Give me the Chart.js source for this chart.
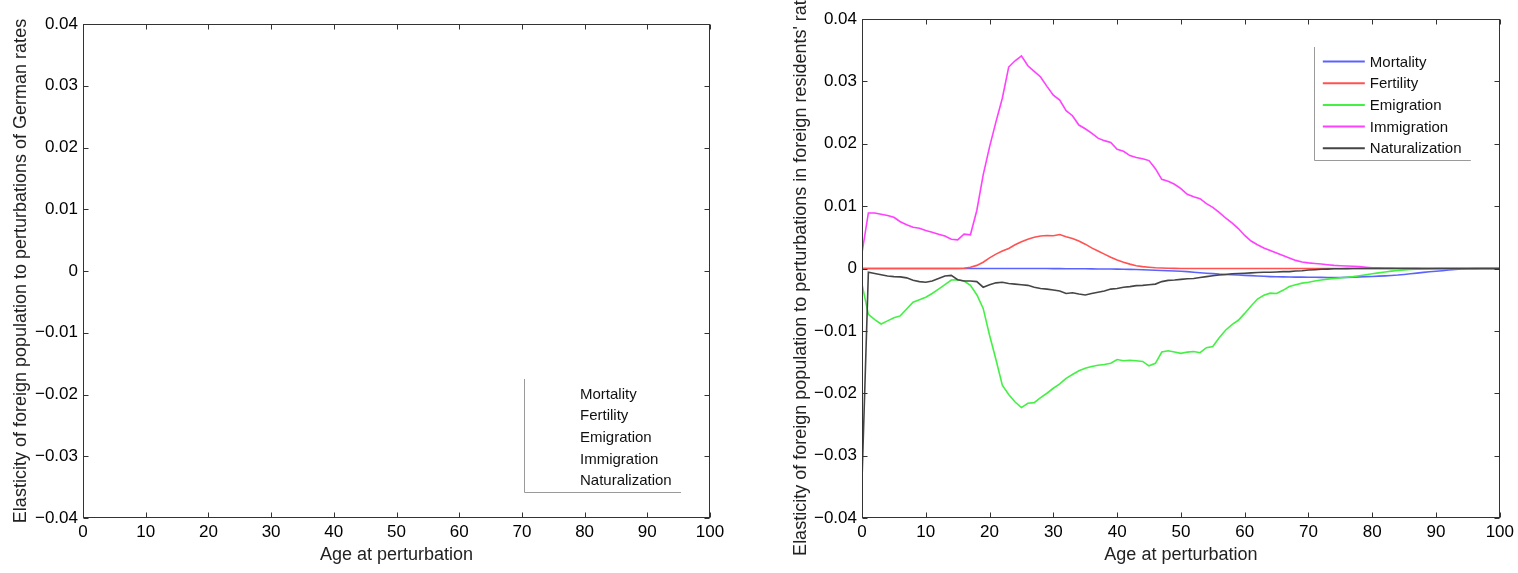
<!DOCTYPE html>
<html>
<head>
<meta charset="utf-8">
<script src="https://cdn.jsdelivr.net/npm/chart.js@4.4.1/dist/chart.umd.min.js"></script>
<style>
body { margin: 0; background: #fff; width: 1518px; height: 573px; overflow: hidden; position: relative; }
.panel { position: absolute; top: 0; height: 573px; }
#leftPanel { left: 0; width: 740px; }
#rightPanel { left: 780px; width: 738px; }
</style>
</head>
<body>
<div class="panel" id="leftPanel"><canvas id="leftChart" width="740" height="573"></canvas></div>
<div class="panel" id="rightPanel"><canvas id="rightChart" width="738" height="573"></canvas></div>
<script>
// age at perturbation
const ages = [0,1,2,3,4,5,6,7,8,9,10,11,12,13,14,15,16,17,18,19,20,21,22,23,24,25,26,27,28,29,30,
  31,32,33,34,35,36,37,38,39,40,41,42,43,44,45,46,47,48,49,50,51,52,53,54,55,56,57,58,59,60,
  61,62,63,64,65,66,67,68,69,70,71,72,73,74,75,76,77,78,79,80,81,82,83,84,85,86,87,88,89,90,
  91,92,93,94,95,96,97,98,99,100];

const seriesNames = ['Mortality', 'Fertility', 'Emigration', 'Immigration', 'Naturalization'];
const seriesColors = ['#5b63ff', '#ff5252', '#45f045', '#ff40ff', '#454545'];

const xTicks = [0, 10, 20, 30, 40, 50, 60, 70, 80, 90, 100];
const yTicks = [-0.04, -0.03, -0.02, -0.01, 0, 0.01, 0.02, 0.03, 0.04];

const leftYTitle = 'Elasticity of foreign population to perturbations of German rates';
const rightYTitle = "Elasticity of foreign population to perturbations in foreign residents' rates";
const xTitle = 'Age at perturbation';

// right panel series
const mortality = [0,0,0,0,0,0,0,0,0,0,0,0,0,0,0,0,0,0,0,0,0,0,0,0,0,0,0,0,0,0,-0.00002,
  -0.00002,-0.00003,-0.00003,-0.00004,-0.00005,-0.00006,-0.00007,-0.00008,-0.00009,-0.0001,
  -0.00012,-0.00014,-0.00017,-0.0002,-0.00024,-0.00028,-0.00031,-0.00035,-0.0004,-0.00045,
  -0.0005,-0.0006,-0.00068,-0.00075,-0.00082,-0.0009,-0.00095,-0.001,-0.00105,-0.0011,
  -0.00115,-0.0012,-0.00125,-0.0013,-0.00133,-0.00135,-0.00137,-0.00138,-0.00139,-0.0014,
  -0.00141,-0.00142,-0.00144,-0.00145,-0.00144,-0.00142,-0.00139,-0.00135,-0.00131,-0.00128,
  -0.00123,-0.00118,-0.00112,-0.00105,-0.00095,-0.00085,-0.00074,-0.00062,-0.00053,-0.00045,
  -0.00035,-0.00025,-0.00016,-0.00008,-0.00004,-0.00002,-0.00001,0,0,0];

const fertility = [0,0,0,0,0,0,0,0,0,0,0,0,0,0,0,0,0.00005,0.0002,0.0005,0.001,0.0017,
  0.0023,0.0028,0.0032,0.0038,0.0043,0.0047,0.005,0.0052,0.0053,0.00525,
  0.00545,0.0051,0.0048,0.0044,0.0039,0.0033,0.0028,0.0023,0.0018,0.00135,
  0.001,0.0007,0.00045,0.0003,0.0002,0.00012,0.00008,0.00005,0.00002,0,
  0,0,0,0,0,0,0,0,0,0,0,0,0,0,0,0,0,0,0,0,0,0,0,0,0,0,0,0,0,0,
  0,0,0,0,0,0,0,0,0,0,0,0,0,0,0,0,0,0,0,0];

const emigration = [-0.0025,-0.00735,-0.0082,-0.0089,-0.0084,-0.0079,-0.0076,-0.0065,-0.0054,-0.005,-0.0046,
  -0.004,-0.0033,-0.0026,-0.00185,-0.0018,-0.002,-0.0027,-0.0042,-0.0064,-0.0107,
  -0.0146,-0.0187,-0.0202,-0.0214,-0.0223,-0.0216,-0.0215,-0.0207,-0.02,-0.0192,
  -0.0185,-0.0176,-0.017,-0.0164,-0.016,-0.0157,-0.0155,-0.0154,-0.0152,-0.0146,
  -0.0148,-0.0147,-0.0148,-0.0149,-0.0156,-0.0152,-0.0134,-0.0132,-0.0134,-0.0136,
  -0.0134,-0.0133,-0.0135,-0.0127,-0.0125,-0.0111,-0.0099,-0.009,-0.0083,-0.0072,
  -0.006,-0.0049,-0.0043,-0.00395,-0.004,-0.0035,-0.0029,-0.0026,-0.00235,-0.0022,
  -0.002,-0.00185,-0.0017,-0.0016,-0.0015,-0.0014,-0.0013,-0.00115,-0.001,-0.00085,
  -0.0007,-0.00055,-0.00042,-0.00032,-0.00022,-0.00015,-0.0001,-0.00006,-0.00003,0,
  0,0,0,0,0,0,0,0,0,0];

const immigration = [0.0025,0.0089,0.0089,0.0087,0.0085,0.0082,0.0075,0.007,0.0066,0.00645,0.0061,
  0.0058,0.0055,0.0052,0.0047,0.0046,0.0055,0.0054,0.0093,0.015,0.0195,
  0.0235,0.0273,0.0323,0.0333,0.0341,0.0325,0.0316,0.0307,0.0292,0.0278,
  0.027,0.0253,0.0245,0.023,0.0224,0.0217,0.0209,0.0205,0.0202,0.0191,
  0.0188,0.0181,0.0178,0.0176,0.0173,0.016,0.0143,0.014,0.0135,0.0128,
  0.0119,0.0115,0.0112,0.0104,0.0098,0.009,0.0081,0.0073,0.0064,0.0053,
  0.0044,0.0038,0.0033,0.0029,0.0025,0.0021,0.0017,0.0013,0.00105,0.0009,
  0.0008,0.00072,0.0006,0.0005,0.00045,0.0004,0.00035,0.0003,0.0002,0.00012,
  0.0001,0.00008,0.00006,0.00005,0.00004,0.00003,0.00002,0.00001,0.00001,0,
  0,0,0,0,0,0,0,0,0,0];

const naturalization = [-0.034,-0.0006,-0.0008,-0.001,-0.0012,-0.0013,-0.00135,-0.0015,-0.0019,-0.0021,-0.0022,
  -0.002,-0.0016,-0.0012,-0.0011,-0.0018,-0.002,-0.002,-0.0021,-0.003,-0.0026,
  -0.0023,-0.0022,-0.0024,-0.0025,-0.0026,-0.0027,-0.003,-0.0032,-0.0033,-0.00345,
  -0.0036,-0.004,-0.0039,-0.0041,-0.00425,-0.004,-0.0038,-0.0036,-0.0033,-0.0032,
  -0.003,-0.0029,-0.00275,-0.0027,-0.0026,-0.0025,-0.0021,-0.0019,-0.00185,-0.00175,
  -0.00165,-0.0016,-0.00145,-0.0013,-0.00115,-0.00105,-0.00095,-0.00085,-0.0008,-0.00075,
  -0.0007,-0.00065,-0.0006,-0.0006,-0.00055,-0.0005,-0.0005,-0.0004,-0.00035,-0.00025,
  -0.0002,-0.00013,-0.0001,-0.00005,-0.00003,-0.00002,-0.00001,0,0,0,
  0,0,0,0,0,0,0,0,0,0,0,0,0,0,0,0,0,0,0,0];

const rightValues = [mortality, fertility, emigration, immigration, naturalization];

const FONT = '"Liberation Sans", Arial, Helvetica, sans-serif';

function fmtTick(v) {
  const r = Math.round(v * 100) / 100;
  if (r === 0) return '0';
  return (r < 0 ? '\u2212' : '') + Math.abs(r).toFixed(2);
}

// box round the plot with inner ticks on all four sides
const framePlugin = {
  id: 'frame',
  afterDatasetsDraw(chart) {
    const { ctx, chartArea: a, scales } = chart;
    const l = Math.round(a.left) + 0.5, r = Math.round(a.right) - 0.5;
    const t = Math.round(a.top) + 0.5, b = Math.round(a.bottom) - 0.5;
    ctx.save();
    ctx.strokeStyle = '#333';
    ctx.lineWidth = 1;
    ctx.beginPath();
    xTicks.forEach(v => {
      const px = Math.round(scales.x.getPixelForValue(v)) + 0.5;
      ctx.moveTo(px, b); ctx.lineTo(px, b - 5);
      ctx.moveTo(px, t); ctx.lineTo(px, t + 5);
    });
    yTicks.forEach(v => {
      const py = Math.round(scales.y.getPixelForValue(v)) + 0.5;
      ctx.moveTo(l, py); ctx.lineTo(l + 5, py);
      ctx.moveTo(r, py); ctx.lineTo(r - 5, py);
    });
    ctx.stroke();
    ctx.strokeRect(l, t, r - l, b - t);
    ctx.restore();
  }
};

// matlab style legend, only left and bottom edges show
const legendPlugin = {
  id: 'matLegend',
  afterDraw(chart, args, opts) {
    const { ctx, chartArea: a } = chart;
    const w = 157, h = 113;
    const right = a.right - 29;
    const left = right - w;
    const top = opts.corner === 'top' ? a.top + 28 : a.bottom - 26 - h;
    ctx.save();
    ctx.strokeStyle = '#9a9a9a';
    ctx.lineWidth = 1;
    ctx.beginPath();
    ctx.moveTo(Math.round(left) + 0.5, top);
    ctx.lineTo(Math.round(left) + 0.5, Math.round(top + h) + 0.5);
    ctx.lineTo(right, Math.round(top + h) + 0.5);
    ctx.stroke();
    ctx.font = '15px ' + FONT;
    ctx.textBaseline = 'middle';
    ctx.fillStyle = '#111';
    chart.data.datasets.forEach((ds, i) => {
      const cy = top + 14.5 + i * 21.7;
      if (opts.samples) {
        ctx.strokeStyle = ds.borderColor;
        ctx.lineWidth = 2;
        ctx.beginPath();
        ctx.moveTo(left + 9, cy);
        ctx.lineTo(left + 51, cy);
        ctx.stroke();
      }
      ctx.fillText(ds.label, left + 56, cy + 1);
    });
    ctx.restore();
  }
};

function makeOptions(yTitle, yWidth, pad, corner, samples) {
  return {
    responsive: false,
    animation: false,
    devicePixelRatio: 1,
    layout: { padding: pad },
    plugins: {
      legend: { display: false },
      tooltip: { enabled: false },
      matLegend: { corner: corner, samples: samples }
    },
    scales: {
      x: {
        type: 'linear', min: 0, max: 100,
        afterBuildTicks: s => { s.ticks = xTicks.map(v => ({ value: v })); },
        afterFit: s => { s.height = 55; },
        grid: { display: false, drawTicks: false },
        border: { display: false },
        ticks: { color: '#000', font: { family: FONT, size: 17 }, padding: 4, maxRotation: 0, autoSkip: false },
        title: { display: true, text: xTitle, color: '#222', font: { family: FONT, size: 18 }, padding: { top: 0, bottom: 7 } }
      },
      y: {
        type: 'linear', min: -0.04, max: 0.04,
        afterBuildTicks: s => { s.ticks = yTicks.map(v => ({ value: v })); },
        afterFit: s => { s.width = yWidth; },
        grid: { display: false, drawTicks: false },
        border: { display: false },
        ticks: { color: '#000', font: { family: FONT, size: 17 }, padding: 5, callback: v => fmtTick(v), autoSkip: false },
        title: { display: true, text: yTitle, color: '#222', font: { family: FONT, size: 18 }, padding: { top: 10, bottom: 0 } }
      }
    }
  };
}

function makeDatasets(valueLists) {
  return seriesNames.map((name, i) => ({
    label: name,
    data: valueLists ? ages.map((a, j) => ({ x: a, y: valueLists[i][j] })) : [],
    borderColor: seriesColors[i],
    borderWidth: 1.6,
    pointRadius: 0,
    tension: 0,
    fill: false,
    order: seriesNames.length - i   // later series on top, as in the original plot
  }));
}

new Chart(document.getElementById('leftChart'), {
  type: 'line',
  data: { datasets: makeDatasets(null) },
  options: makeOptions(leftYTitle, 83, { left: 0, top: 24, right: 30, bottom: 0 }, 'bottom', false),
  plugins: [framePlugin, legendPlugin]
});

new Chart(document.getElementById('rightChart'), {
  type: 'line',
  data: { datasets: makeDatasets(rightValues) },
  options: makeOptions(rightYTitle, 82, { left: 0, top: 19, right: 18, bottom: 0 }, 'top', true),
  plugins: [framePlugin, legendPlugin]
});
</script>
</body>
</html>
